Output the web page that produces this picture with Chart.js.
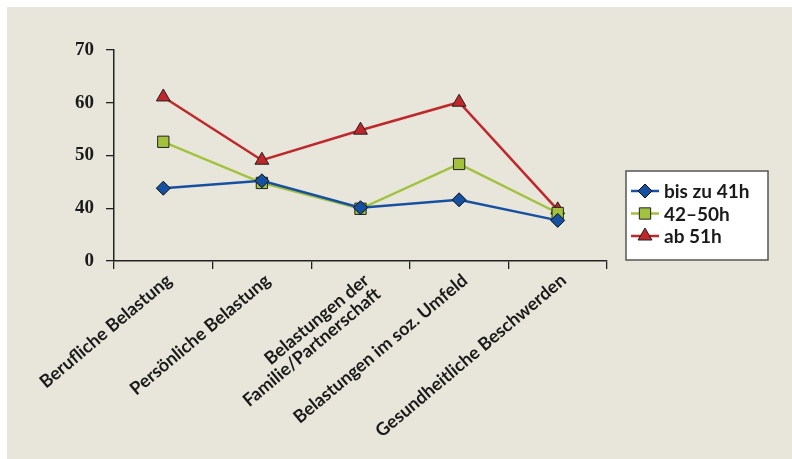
<!DOCTYPE html>
<html>
<head>
<meta charset="utf-8">
<script src="https://cdn.jsdelivr.net/npm/chart.js@4/dist/chart.umd.min.js"></script>
<style>
html,body{margin:0;padding:0;background:#ffffff;}
#c{display:block;}
</style>
</head>
<body>
<canvas id="c" width="792" height="459"></canvas>
<script>
const categories = [
  "Berufliche Belastung",
  "Persönliche Belastung",
  ["Belastungen der", "Familie/Partnerschaft"],
  "Belastungen im soz. Umfeld",
  "Gesundheitliche Beschwerden"
];
const seriesNames = ["bis zu 41h", "42–50h", "ab 51h"];
const bisZu41h = [43.8, 45.2, 40.1, 41.6, 37.7];
const h42bis50 = [52.6, 44.8, 39.9, 48.4, 39.1];
const ab51h    = [61.1, 49.1, 54.8, 60.1, 39.7];
const yTickLabels = {30: "0", 40: "40", 50: "50", 60: "60", 70: "70"};

const panelPlugin = {
  id: 'panel',
  beforeDraw(chart) {
    const ctx = chart.ctx;
    ctx.save();
    ctx.fillStyle = '#ffffff';
    ctx.fillRect(0, 0, chart.width, chart.height);
    ctx.fillStyle = '#e8e6da';
    ctx.fillRect(7, 7, chart.width - 7, chart.height - 7);
    ctx.restore();
  }
};

const boxLegend = {
  id: 'boxLegend',
  afterDraw(chart) {
    const ctx = chart.ctx;
    const x0 = 626, y0 = 171, w = 142, h = 89;
    ctx.save();
    ctx.fillStyle = '#ffffff';
    ctx.fillRect(x0, y0, w, h);
    ctx.strokeStyle = '#555555';
    ctx.lineWidth = 1.5;
    ctx.strokeRect(x0, y0, w, h);
    chart.data.datasets.forEach((ds, i) => {
      const y = 191 + i * 22.5;
      ctx.strokeStyle = ds.borderColor;
      ctx.lineWidth = 2.5;
      ctx.beginPath();
      ctx.moveTo(631, y);
      ctx.lineTo(659, y);
      ctx.stroke();
      ctx.fillStyle = ds.pointBackgroundColor;
      ctx.strokeStyle = ds.pointBorderColor;
      ctx.lineWidth = 1;
      Chart.helpers.drawPoint(ctx, {pointStyle: ds.pointStyle, radius: ds.pointRadius, rotation: 0, borderWidth: 1}, 645, y);
      ctx.fillStyle = '#1a1a1a';
      ctx.font = 'bold 19px Lato';
      ctx.textAlign = 'left';
      ctx.textBaseline = 'middle';
      ctx.fillText(ds.label, 664, y + 1);
    });
    ctx.restore();
  }
};

new Chart(document.getElementById('c'), {
  type: 'line',
  data: {
    labels: categories,
    datasets: [
      {label: seriesNames[0], data: bisZu41h, borderColor: '#1650a0', backgroundColor: '#1650a0',
       pointBackgroundColor: '#1650a0', pointBorderColor: '#111111', pointStyle: 'rectRot', pointRadius: 7,
       pointBorderWidth: 1, borderWidth: 2.5, tension: 0},
      {label: seriesNames[1], data: h42bis50, borderColor: '#a2c23e', backgroundColor: '#a2c23e',
       pointBackgroundColor: '#a2c23e', pointBorderColor: '#222222', pointStyle: 'rect', pointRadius: 8,
       pointBorderWidth: 1, borderWidth: 2.5, tension: 0},
      {label: seriesNames[2], data: ab51h, borderColor: '#c0272a', backgroundColor: '#c0272a',
       pointBackgroundColor: '#c0272a', pointBorderColor: '#222222', pointStyle: 'triangle', pointRadius: 8,
       pointBorderWidth: 1, borderWidth: 2.5, tension: 0}
    ]
  },
  options: {
    responsive: false,
    animation: false,
    layout: {padding: {left: 0, top: 50, right: 185, bottom: 0}},
    plugins: {legend: {display: false}, tooltip: {enabled: false}},
    scales: {
      x: {
        offset: true,
        grid: {display: true, offset: true, drawOnChartArea: false, drawTicks: true, tickLength: 8, color: '#222222', lineWidth: 1.3},
        border: {display: true, color: '#222222', width: 1.5},
        ticks: {color: '#1a1a1a', font: {family: 'Lato', weight: 'bold', size: 18, lineHeight: 1.0}, minRotation: 40, maxRotation: 40, padding: 2, labelOffset: 6, autoSkip: false},
        afterFit(scale) { scale.height = 198; }
      },
      y: {
        min: 30, max: 70,
        grid: {display: true, drawOnChartArea: false, drawTicks: true, tickLength: 8, color: '#222222', lineWidth: 1.3},
        border: {display: true, color: '#222222', width: 1.5},
        ticks: {stepSize: 10, color: '#1a1a1a', padding: 12, font: {family: 'Liberation Serif', weight: 'bold', size: 19},
          callback: (v) => yTickLabels[v] !== undefined ? yTickLabels[v] : ''},
        afterFit(scale) { scale.width = 114; }
      }
    }
  },
  plugins: [panelPlugin, boxLegend]
});
</script>
</body>
</html>
